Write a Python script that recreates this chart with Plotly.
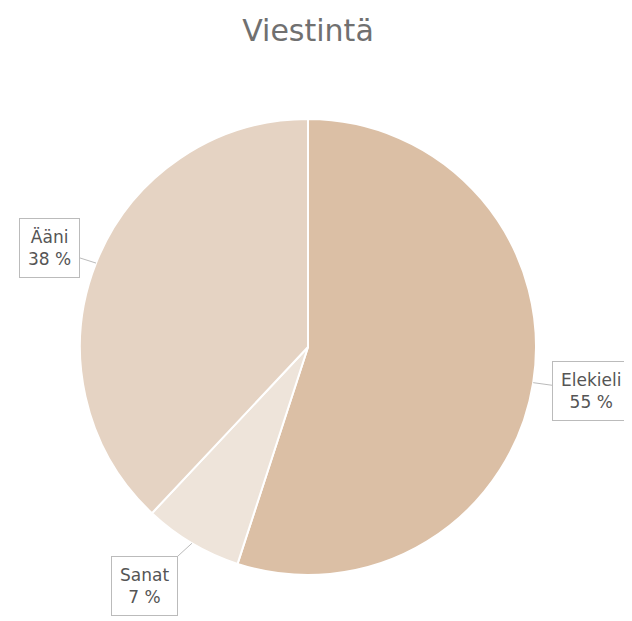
import math
import plotly.graph_objects as go

labels = ["Elekieli", "Sanat", "Ääni"]
values = [55, 7, 38]
colors = ["#dbbfa5", "#eee4da", "#e5d3c3"]
title_text = "Viestintä"

W, H = 632, 621
OFF = 8  # page body margin
cx, cy, r = 308 - OFF, 347 - OFF, 228  # pie centre / radius in px

# label box offsets (px) from slice anchor
offsets = {"Elekieli": (58, 8), "Sanat": (-47, 43), "Ääni": (-47, -15)}

fig = go.Figure(go.Pie(
    labels=labels, values=values, sort=False, direction="clockwise", rotation=0,
    marker=dict(colors=colors, line=dict(color="white", width=2)),
    textinfo="none", hoverinfo="skip", showlegend=False,
    domain=dict(x=[(cx - r) / W, (cx + r) / W], y=[1 - (cy + r) / H, 1 - (cy - r) / H]),
))

total = sum(values)
start = 0.0
annotations = []
for lab, v in zip(labels, values):
    mid = (start + v / 2) / total * 2 * math.pi
    start += v
    px = cx + r * math.sin(mid)
    py = cy - r * math.cos(mid)
    dx, dy = offsets[lab]
    annotations.append(dict(
        x=px / W, y=1 - py / H, xref="paper", yref="paper",
        text=f"{lab}<br>{v} %", showarrow=True, ax=dx, ay=dy,
        arrowhead=0, arrowwidth=1, arrowcolor="#bbbbbb",
        bordercolor="#bbbbbb", borderwidth=1, borderpad=8, bgcolor="white",
        font=dict(family="DejaVu Sans", size=17, color="#555555"),
    ))

fig.update_layout(
    width=W, height=H, margin=dict(l=0, r=0, t=0, b=0),
    paper_bgcolor="white", plot_bgcolor="white",
    title=dict(text=title_text, x=(308 - OFF) / W, xanchor="center", y=1 - (30 - OFF) / H,
               yanchor="middle",
               font=dict(family="DejaVu Sans", size=30, color="#707070")),
    annotations=annotations,
)

fig.write_html("out.html")
